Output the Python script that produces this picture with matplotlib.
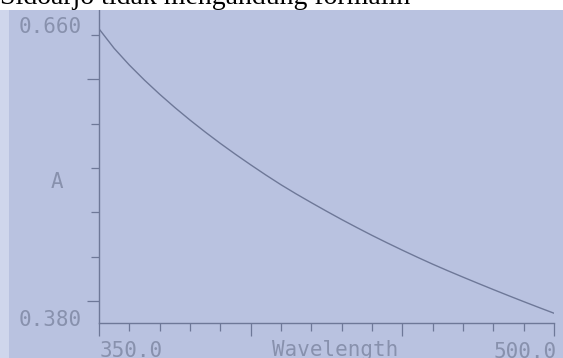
import matplotlib
matplotlib.use("Agg")
import matplotlib.pyplot as plt
from matplotlib.patches import Rectangle
from matplotlib.ticker import MultipleLocator, FixedLocator, NullFormatter

# absorbance spectrum
wavelength = [350, 355, 360, 365, 370, 375, 380, 385, 390, 395, 400, 405, 410, 415,
              420, 425, 430, 435, 440, 445, 450, 455, 460, 465, 470, 475, 480, 485,
              490, 495, 500]
absorbance = [0.6660, 0.6470, 0.6308, 0.6161, 0.6024, 0.5895, 0.5773, 0.5657, 0.5546,
              0.5440, 0.5338, 0.5239, 0.5144, 0.5055, 0.4970, 0.4887, 0.4806, 0.4728,
              0.4652, 0.4579, 0.4508, 0.4439, 0.4372, 0.4308, 0.4246, 0.4185, 0.4125,
              0.4066, 0.4008, 0.3951, 0.3895]

x_min, x_max = 350.0, 500.0
y_min, y_max = 0.380, 0.660
caption = "Sidoarjo tidak mengandung formalin"

screen = "#b9c2e0"
ink = "#6e7898"
label_col = "#8891ad"

fig = plt.figure(figsize=(5.63, 3.58), dpi=100, facecolor=screen)
ax = fig.add_axes([99 / 563, 35 / 358, 455 / 563, 313 / 358])
ax.set_facecolor(screen)

ax.plot(wavelength, absorbance, color=ink, lw=1.0)

# y scale: 0.380 on the axis line, 0.660 at the top tick (6.5 divisions)
step = (y_max - y_min) / 6.5
ax.set_xlim(x_min, x_max)
ax.set_ylim(y_min, y_min + step * (313 / 288 * 6.5))

ax.xaxis.set_major_locator(MultipleLocator(50))
ax.xaxis.set_minor_locator(MultipleLocator(10))
yt = [y_min + step * (k + 0.5) for k in range(7)]
ax.yaxis.set_major_locator(FixedLocator([yt[0], yt[5]]))
ax.yaxis.set_minor_locator(FixedLocator([yt[i] for i in (1, 2, 3, 4, 6)]))
ax.xaxis.set_major_formatter(NullFormatter())
ax.yaxis.set_major_formatter(NullFormatter())
ax.tick_params(which="major", direction="out", length=9, width=0.9, color=ink)
ax.tick_params(which="minor", direction="out", length=5.5, width=0.9, color=ink)

for s in ("top", "right"):
    ax.spines[s].set_visible(False)
for s in ("left", "bottom"):
    ax.spines[s].set_color(ink)
    ax.spines[s].set_linewidth(1.0)

font = dict(family="DejaVu Sans Mono", fontsize=15, color=label_col)
ax.annotate(f"{y_max:.3f}", xy=(0, y_max), xycoords=("axes fraction", "data"),
            xytext=(-17, 8), textcoords="offset pixels", ha="right", va="center", **font)
ax.annotate(f"{y_min:.3f}", xy=(0, y_min), xycoords=("axes fraction", "data"),
            xytext=(-17, 3), textcoords="offset pixels", ha="right", va="center", **font)
ax.text(-0.0923, 0.45, "A", transform=ax.transAxes, ha="center", va="center", **font)
ax.annotate(f"{x_min:.1f}", xy=(x_min, 0), xycoords=("data", "axes fraction"),
            xytext=(1, -18), textcoords="offset pixels", ha="left", va="top", **font)
ax.annotate(f"{x_max:.1f}", xy=(x_max, 0), xycoords=("data", "axes fraction"),
            xytext=(3, -19), textcoords="offset pixels", ha="right", va="top", **font)
ax.annotate("Wavelength", xy=(0.519, 0), xycoords="axes fraction",
            xytext=(0, -17), textcoords="offset pixels", ha="center", va="top", **font)

# white page strip above the screen with the cut caption
fig.patches.append(Rectangle((0, 348 / 358), 1, 10 / 358, transform=fig.transFigure,
                             facecolor="white", edgecolor="none", zorder=2))
fig.patches.append(Rectangle((0, 0), 9 / 563, 348 / 358, transform=fig.transFigure,
                             facecolor="#cfd6ec", edgecolor="none", zorder=2))
fig.text(0.0, 353.5 / 358, caption, family="Liberation Serif", fontsize=20,
         color="black", ha="left", va="baseline", zorder=3)

fig.savefig("out.png", dpi=100, facecolor=screen)
